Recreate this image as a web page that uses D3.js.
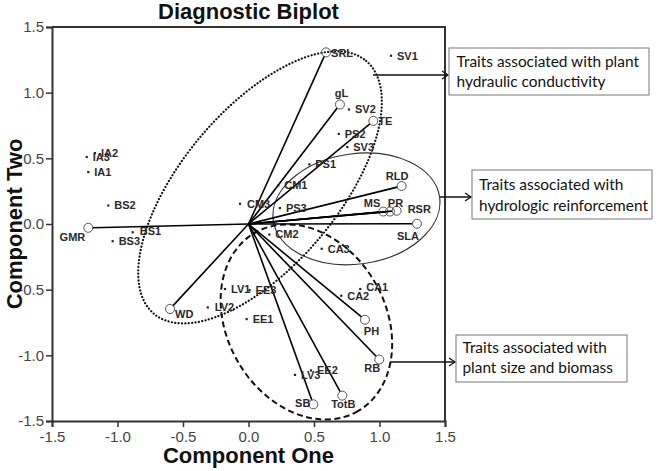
<!DOCTYPE html>
<html><head><meta charset="utf-8">
<script src="https://cdn.jsdelivr.net/npm/d3@7"></script>
<style>
html,body{margin:0;padding:0;background:#fff;}
svg{display:block;}
</style></head>
<body>
<svg id="chart" width="661" height="471"></svg>
<script>
// ---------- data ----------
const xTicks = [-1.5, -1.0, -0.5, 0.0, 0.5, 1.0, 1.5];
const yTicks = [-1.5, -1.0, -0.5, 0.0, 0.5, 1.0, 1.5];

// trait vectors (loadings)
const vectorNames = ["SRL","gL","TE","RLD","MS","PR","RSR","SLA","GMR","WD","PH","RB","TotB","SB"];
const vectorX = [0.592, 0.698, 0.953, 1.169, 1.029, 1.080, 1.131, 1.286, -1.223, -0.599, 0.889, 0.998, 0.716, 0.495];
const vectorY = [1.307, 0.910, 0.785, 0.289, 0.095, 0.095, 0.101, 0.002, -0.029, -0.647, -0.729, -1.032, -1.307, -1.373];

// observation scores
const pointNames = ["SV1","SV2","PS2","SV3","PS1","CM1","PS3","CM3","CM2","CA3","CA1","CA2","LV1","EE3","LV2","EE1","LV3","EE2","BS1","BS2","BS3","IA1","IA3","IA2"];
const pointX = [1.088, 0.767, 0.689, 0.754, 0.464, 0.227, 0.240, -0.065, 0.159, 0.559, 0.853, 0.708, -0.179, 0.008, -0.311, -0.014, 0.355, 0.477, -0.884, -1.070, -1.037, -1.223, -1.235, -1.172];
const pointY = [1.281, 0.872, 0.686, 0.586, 0.454, 0.294, 0.121, 0.154, -0.080, -0.189, -0.495, -0.546, -0.495, -0.504, -0.635, -0.724, -1.149, -1.115, -0.063, 0.141, -0.131, 0.395, 0.510, 0.540];

// group ellipses (data units: centre, semi-axes; screen rotation deg)
const groupNames = ["hydraulic", "hydrologic", "biomass"];
const groupCX = [0.088, 0.824, 0.442];
const groupCY = [0.279, 0.115, -0.746];
const groupRX = [1.26, 0.641, 0.786];
const groupRY = [0.595, 0.42, 0.603];
const groupRot = [-50, -8, 60];

const boxTexts = [
  ["Traits associated with plant", "hydraulic conductivity"],
  ["Traits associated with", "hydrologic reinforcement"],
  ["Traits associated with", "plant size and biomass"]
];

// ---------- layout / style ----------
const plot = {left: 52, right: 445, top: 27, bottom: 421};
const labelFont = "'Liberation Sans', Arial, sans-serif";

const vecLabel = {
  SRL:[5,1,"start"], gL:[1.5,-11.5,"middle"], TE:[5,0,"start"], RLD:[-4.5,-10.5,"middle"],
  MS:[-3,-8.5,"end"], PR:[5.5,-8.5,"middle"], RSR:[11,-2,"start"], SLA:[-9,12.5,"middle"],
  GMR:[-3,9.5,"end"], WD:[5,5,"start"], PH:[6.5,11,"middle"], RB:[-7,8.5,"middle"],
  TotB:[1,8,"middle"], SB:[-3,-1.5,"end"]
};
const ptLabel = { BS1:[7,-1,"start"], CA1:[6,-1.5,"start"], LV2:[7,-0.5,"start"], CM3:[7,0,"start"] };

const ellStyle = [
  {dash:"0.1 3.3", width:2.2, cap:"round", color:"#111"},
  {dash:null, width:1.2, cap:"butt", color:"#333"},
  {dash:"6 3.5", width:2, cap:"butt", color:"#111"}
];
const boxes = [
  {x:449, y:48, w:200, h:47, tx:456.5, b:[67,87], target:182.6, ax1:373, ax2:449, ay:75},
  {x:472, y:170, w:180, h:49, tx:479, b:[190,210.5], target:169, ax1:440, ax2:472, ay:197},
  {x:456, y:335, w:171, h:47, tx:462.5, b:[353,373], target:150.6, ax1:390, ax2:456, ay:362}
];

const svg = d3.select("#chart");
const x = d3.scaleLinear().domain([-1.5, 1.5]).range([plot.left, plot.right]);
const y = d3.scaleLinear().domain([-1.5, 1.5]).range([plot.bottom, plot.top]);
const kx = x(1) - x(0), ky = y(0) - y(1);
const fmt = d => d.toFixed(1);

// ellipses
const gEll = svg.append("g");
groupNames.forEach((g, i) => {
  const cx = x(groupCX[i]), cy = y(groupCY[i]);
  const e = gEll.append("ellipse")
    .attr("cx", cx).attr("cy", cy)
    .attr("rx", groupRX[i] * kx).attr("ry", groupRY[i] * ky)
    .attr("transform", `rotate(${groupRot[i]} ${cx} ${cy})`)
    .attr("fill", "none")
    .attr("stroke", ellStyle[i].color)
    .attr("stroke-width", ellStyle[i].width)
    .attr("stroke-linecap", ellStyle[i].cap);
  if (ellStyle[i].dash) e.attr("stroke-dasharray", ellStyle[i].dash);
});

// vectors
const r = 4.5;
const gVec = svg.append("g");
vectorNames.forEach((n, i) => {
  const x0 = x(0), y0 = y(0), x1 = x(vectorX[i]), y1 = y(vectorY[i]);
  const len = Math.hypot(x1 - x0, y1 - y0);
  const f = (len - r) / len;
  gVec.append("line")
    .attr("x1", x0).attr("y1", y0)
    .attr("x2", x0 + (x1 - x0) * f).attr("y2", y0 + (y1 - y0) * f)
    .attr("stroke", "#000").attr("stroke-width", 1.6);
  gVec.append("circle").attr("cx", x1).attr("cy", y1).attr("r", r)
    .attr("fill", "none").attr("stroke", "#555").attr("stroke-width", 1);
});

// points
const gPt = svg.append("g");
pointNames.forEach((n, i) => {
  gPt.append("rect")
    .attr("x", x(pointX[i]) - 1.1).attr("y", y(pointY[i]) - 1.1)
    .attr("width", 2.2).attr("height", 2.2).attr("fill", "#222");
});

// labels
const gLab = svg.append("g")
  .attr("font-family", labelFont).attr("font-weight", "bold")
  .attr("font-size", 11).attr("fill", "#2a2a2a");
vectorNames.forEach((n, i) => {
  const o = vecLabel[n];
  gLab.append("text").attr("x", x(vectorX[i]) + o[0]).attr("y", y(vectorY[i]) + o[1])
    .attr("dy", "0.36em").attr("text-anchor", o[2]).text(n);
});
pointNames.forEach((n, i) => {
  const o = ptLabel[n] || [6, 0, "start"];
  gLab.append("text").attr("x", x(pointX[i]) + o[0]).attr("y", y(pointY[i]) + o[1])
    .attr("dy", "0.36em").attr("text-anchor", o[2]).text(n);
});

// axes
const xAxis = d3.axisBottom(x).tickValues(xTicks).tickFormat(fmt).tickSizeOuter(0).tickSize(6).tickPadding(4);
const yAxis = d3.axisLeft(y).tickValues(yTicks).tickFormat(fmt).tickSizeOuter(0).tickSize(6).tickPadding(2);
const gx = svg.append("g").attr("transform", `translate(0,${plot.bottom})`).call(xAxis);
const gy = svg.append("g").attr("transform", `translate(${plot.left},0)`).call(yAxis);
[gx, gy].forEach(g => {
  g.selectAll("path").attr("stroke", "#333").attr("stroke-width", 2);
  g.selectAll("line").attr("stroke", "#333").attr("stroke-width", 1.5);
  g.selectAll("text").attr("font-family", labelFont).attr("font-size", 15).attr("fill", "#444");
});
svg.append("path")
  .attr("d", `M${plot.left},${plot.top}H${plot.right}V${plot.bottom}`)
  .attr("fill", "none").attr("stroke", "#333").attr("stroke-width", 2);

// titles
svg.append("text").attr("x", (plot.left + plot.right) / 2).attr("y", 18.5)
  .attr("text-anchor", "middle").attr("font-family", labelFont).attr("font-weight", "bold")
  .attr("font-size", 22).attr("fill", "#111").text("Diagnostic Biplot");
svg.append("text").attr("x", (plot.left + plot.right) / 2).attr("y", 463)
  .attr("text-anchor", "middle").attr("font-family", labelFont).attr("font-weight", "bold")
  .attr("font-size", 22).attr("fill", "#111").text("Component One");
svg.append("text").attr("transform", `translate(22,${(plot.top + plot.bottom) / 2}) rotate(-90)`)
  .attr("text-anchor", "middle").attr("font-family", labelFont).attr("font-weight", "bold")
  .attr("font-size", 22).attr("fill", "#111").text("Component Two");

// annotation boxes + arrows
const gAnn = svg.append("g");
boxes.forEach((b, i) => {
  gAnn.append("line").attr("x1", b.ax1).attr("y1", b.ay).attr("x2", b.ax2 - 1).attr("y2", b.ay)
    .attr("stroke", "#111").attr("stroke-width", 1.5);
  gAnn.append("path").attr("d", `M${b.ax2 - 7},${b.ay - 4}L${b.ax2 - 1},${b.ay}L${b.ax2 - 7},${b.ay + 4}`)
    .attr("fill", "none").attr("stroke", "#111").attr("stroke-width", 1.3);
  gAnn.append("rect").attr("x", b.x).attr("y", b.y).attr("width", b.w).attr("height", b.h)
    .attr("fill", "#fff").attr("stroke", "#777").attr("stroke-width", 1);
  const texts = boxTexts[i].map((t, j) => gAnn.append("text")
    .attr("x", b.tx).attr("y", b.b[j]).attr("font-family", "Lato, 'Open Sans', sans-serif")
    .attr("font-size", 15).attr("fill", "#111").text(t));
  const wmax = d3.max(texts, t => t.node().getComputedTextLength());
  const fs = 15 * b.target / wmax;
  texts.forEach(t => t.attr("font-size", fs));
});
</script>
</body></html>
